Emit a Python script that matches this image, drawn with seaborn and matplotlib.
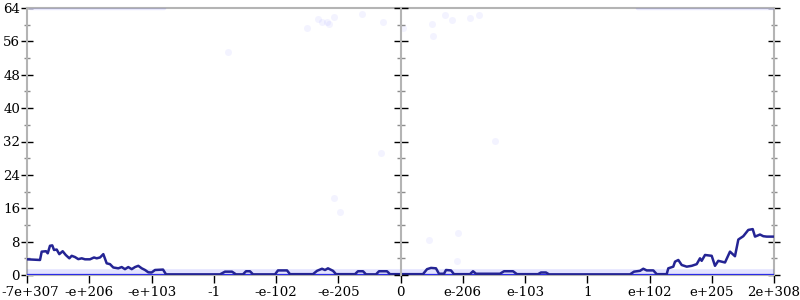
import numpy as np
import pandas as pd
import matplotlib
matplotlib.use("Agg")
import matplotlib.pyplot as plt
import seaborn as sns

# ---- data ----
tick_labels = ["-7e+307", "-e+206", "-e+103", "-1", "-e-102", "-e-205", "0",
               "e-206", "e-103", "1", "e+102", "e+205", "2e+308"]
y_ticks = [0, 8, 16, 24, 32, 40, 48, 56, 64]

line_x = [0.0, 0.209, 0.236, 0.305, 0.333, 0.369, 0.406, 0.434, 0.477, 0.519,
          0.573, 0.622, 0.680, 0.718, 0.771, 0.824, 0.879, 0.932, 1.012, 1.076,
          1.120, 1.173, 1.226, 1.280, 1.333, 1.386, 1.467, 1.521, 1.574, 1.627,
          1.682, 1.735, 1.788, 1.843, 1.896, 1.949, 2.003, 2.056, 2.185, 2.233,
          3.100, 3.181, 3.293, 3.357, 3.470, 3.518, 3.582, 3.631, 3.984, 4.032,
          4.177, 4.225, 4.594, 4.659, 4.739, 4.787, 4.835, 4.916, 4.964, 5.269,
          5.317, 5.398, 5.446, 5.606, 5.655, 5.783, 5.831, 5.992, 6.361, 6.426,
          6.490, 6.570, 6.618, 6.699, 6.731, 6.811, 6.859, 7.116, 7.165, 7.213,
          7.598, 7.663, 7.807, 7.871, 8.209, 8.257, 8.337, 8.386, 9.687, 9.751,
          9.847, 9.900, 9.955, 10.061, 10.116, 10.276, 10.302, 10.382, 10.410, 10.463,
          10.517, 10.598, 10.678, 10.758, 10.811, 10.838, 10.892, 10.999, 11.052, 11.105,
          11.213, 11.293, 11.373, 11.427, 11.507, 11.587, 11.658, 11.695, 11.775, 11.828,
          11.883, 12.0]
line_y = [3.76, 3.6, 5.6, 5.7, 5.2, 7.0, 7.1, 6.0, 6.1, 5.0,
          5.7, 4.8, 4.0, 4.6, 4.3, 3.8, 4.0, 3.76, 3.76, 4.2,
          4.0, 4.2, 5.0, 2.8, 2.6, 1.8, 1.6, 1.9, 1.4, 1.9,
          1.4, 1.9, 2.2, 1.6, 1.2, 0.64, 0.6, 1.2, 1.3, 0.15,
          0.15, 0.8, 0.8, 0.15, 0.15, 0.9, 0.9, 0.15, 0.15, 1.1,
          1.1, 0.2, 0.2, 1.0, 1.5, 1.2, 1.6, 1.0, 0.2, 0.2,
          0.9, 0.9, 0.15, 0.15, 0.9, 0.9, 0.2, 0.2, 0.2, 1.4,
          1.7, 1.6, 0.3, 0.3, 1.2, 1.1, 0.2, 0.2, 0.9, 0.3,
          0.3, 0.9, 0.9, 0.2, 0.2, 0.6, 0.6, 0.15, 0.15, 0.8,
          1.0, 1.5, 1.1, 1.1, 0.2, 0.2, 1.6, 2.0, 3.2, 3.6,
          2.4, 2.0, 2.2, 2.6, 4.0, 3.4, 4.8, 4.6, 2.2, 3.4,
          3.0, 5.6, 4.5, 8.5, 9.3, 10.8, 11.0, 9.2, 9.7, 9.3,
          9.2, 9.2]

dots_x = [4.498, 4.675, 4.739, 4.819, 4.851, 4.932, 5.382, 5.719, 6.040, 6.506,
          6.522, 6.715, 6.827, 7.116, 7.261, 7.518, 5.687, 4.932, 5.028, 6.458,
          6.924, 6.908, 3.229]
dots_y = [59.2, 61.4, 60.7, 60.7, 60.2, 61.9, 62.6, 60.7, 59.2, 60.2,
          57.3, 62.4, 61.2, 61.6, 62.4, 32.1, 29.3, 18.5, 15.1, 8.4,
          10.1, 3.4, 53.5]

# faint dense bands of points (x start, x end, level)
band_x0 = [0.0, 0.0, 0.05, 9.8]
band_x1 = [12.0, 12.0, 2.2, 12.0]
band_level = [0.0, 0.6, 64.0, 64.0]

# ---- plot ----
sns.set_theme(style="white")
plt.rcParams["font.family"] = ["DejaVu Serif"]
plt.rcParams["xtick.labelcolor"] = "black"
plt.rcParams["ytick.labelcolor"] = "black"

fig = plt.figure(figsize=(8, 3), dpi=100)
L, B = 27 / 800, 25 / 300
W, H = 747 / 800, 267 / 300
ax = fig.add_axes([L, B, W, H])

# bands
band_styles = [dict(color="#2a2ae6", lw=1.6, alpha=1.0),
               dict(color="#3c3cff", lw=4.0, alpha=0.14),
               dict(color="#3c3cff", lw=2.5, alpha=0.10),
               dict(color="#3c3cff", lw=2.5, alpha=0.10)]
for x0, x1, lv, st in zip(band_x0, band_x1, band_level, band_styles):
    bdf = pd.DataFrame({"x": [x0, x1], "y": [lv, lv]})
    sns.lineplot(data=bdf, x="x", y="y", ax=ax, color=st["color"],
                 lw=st["lw"], alpha=st["alpha"], zorder=2)

sns.scatterplot(x=dots_x, y=dots_y, ax=ax, color="#2020ff", alpha=0.05,
                s=26, linewidth=0, zorder=2)

df = pd.DataFrame({"x": line_x, "y": line_y})
sns.lineplot(data=df, x="x", y="y", ax=ax, color="#242494", lw=1.8,
             zorder=4, sort=False)

ax.set_xlim(0, 12)
ax.set_ylim(0, 64)
ax.set_xlabel("")
ax.set_ylabel("")
ax.set_xticks(range(13))
# first label is drawn separately so that it stays inside the figure
ax.set_xticklabels([""] + tick_labels[1:], fontsize=9.6, color="black")
ax.set_yticks(y_ticks)
ax.set_yticklabels([str(v) for v in y_ticks], fontsize=9.6, color="black")
ax.set_yticks(np.arange(4, 64, 8), minor=True)

for s in ["left", "right", "top", "bottom"]:
    ax.spines[s].set_color("#b4b4b4")
    ax.spines[s].set_linewidth(1.5)
    ax.spines[s].set_zorder(1)

ax.tick_params(axis="x", which="major", direction="out", length=6, width=1,
               color="black", bottom=True, pad=2)
ax.tick_params(axis="y", which="major", direction="inout", length=8, width=1,
               color="black", left=True, right=True, labelright=False, pad=1)
ax.tick_params(axis="y", which="minor", direction="inout", length=5, width=1,
               color="#8c8c8c", left=True, right=True)

fig.canvas.draw()
ref = ax.get_xticklabels()[1].get_window_extent()
fig.text(1 / 800, ref.y1 / 300, tick_labels[0], ha="left", va="top",
         fontsize=9.6, family="DejaVu Serif", color="black")

# middle axis at x = 0
ax_mid = fig.add_axes([L + W * 0.5, B, 1e-6, H])
ax_mid.patch.set_visible(False)
for s in ["right", "top", "bottom"]:
    ax_mid.spines[s].set_visible(False)
ax_mid.spines["left"].set_color("#b4b4b4")
ax_mid.spines["left"].set_linewidth(1.5)
ax_mid.set_ylim(0, 64)
ax_mid.set_xticks([])
ax_mid.set_yticks(y_ticks)
ax_mid.set_yticks(np.arange(4, 64, 8), minor=True)
ax_mid.tick_params(axis="y", which="major", direction="inout", length=10,
                   width=1, color="black", labelleft=False, left=True)
ax_mid.tick_params(axis="y", which="minor", direction="inout", length=6,
                   width=1, color="#8c8c8c", left=True)

fig.savefig("out.png", dpi=100)
